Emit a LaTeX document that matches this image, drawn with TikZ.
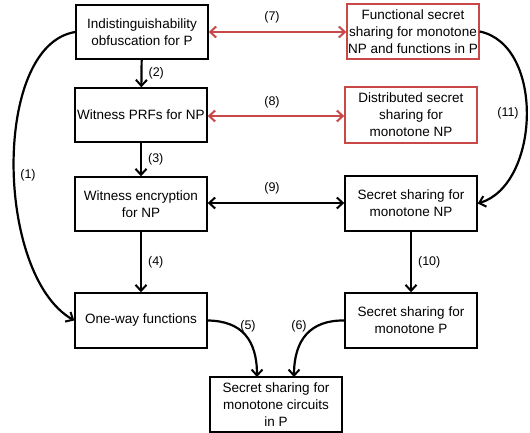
\documentclass[tikz,border=0pt]{standalone}
\usepackage{fontspec}
\setmainfont{Liberation Sans}
\usetikzlibrary{arrows.meta}
\definecolor{boxred}{RGB}{200,72,72}
\tikzset{
  box/.style={draw=black,line width=1.4pt,minimum width=132pt,minimum height=54pt,
    align=center,inner sep=0pt,font=\fontsize{13.5}{17}\selectfont},
  redbox/.style={box,draw=boxred},
  tip/.style={},
  conn/.style={line width=2.2pt,-{Straight Barb[length=6pt,width=11pt,line width=2pt]}},
  biconn/.style={line width=2.2pt,{Straight Barb[length=6pt,width=11pt,line width=2pt]}-{Straight Barb[length=6pt,width=11pt,line width=2pt]}},
  lbl/.style={font=\fontsize{12.5}{14}\selectfont,inner sep=0pt}
}
\begin{document}
\begin{tikzpicture}[x=1pt,y=-1pt]
\useasboundingbox (0,0) rectangle (530,433);
\node[box] (A) at (142,32) {Indistinguishability\\obfuscation for P};
\node[box] (B) at (141,115) {Witness PRFs for NP};
\node[box] (C) at (141,204) {Witness encryption\\for NP};
\node[box,minimum height=55pt] (D) at (141,320.5) {One-way functions};
\node[box,minimum height=55pt] (E) at (276,404.5) {Secret sharing for\\monotone circuits\\in P};
\node[redbox,minimum height=55pt] (F) at (413,31.5) {Functional secret\\sharing for monotone\\NP and functions in P};
\node[redbox,minimum height=56pt] (G) at (411,115) {Distributed secret\\sharing for\\monotone NP};
\node[box,minimum height=55pt] (H) at (411,203.5) {Secret sharing for\\monotone NP};
\node[box,minimum height=55pt] (I) at (411,320.5) {Secret sharing for\\monotone P};
\coordinate (E5) at (257,377);
\coordinate (E6) at (294,377);
% vertical arrows
\draw[conn] (A) -- (B) node[lbl,midway,right=6pt] {(2)};
\draw[conn] (B) -- (C) node[lbl,midway,right=6pt] {(3)};
\draw[conn] (C) -- (D) node[lbl,midway,right=6pt] {(4)};
\draw[conn] (H) -- (I) node[lbl,midway,right=6pt] {(10)};
% horizontal double arrows
\draw[biconn,boxred] (A.east |- 0,32) -- (F.west |- 0,32);
\draw[biconn,boxred] (B.east |- 0,116) -- (G.west |- 0,116);
\draw[biconn] (C.east |- 0,203) -- (H.west |- 0,203);
\node[lbl] (l7) at (272,17) {(7)};
\node[lbl] (l8) at (272,102) {(8)};
\node[lbl] (l9) at (272,188) {(9)};
% curves
\draw[conn] (A.west) .. controls (-8,45) and (-5,275) .. (D.west);
\node[lbl] (l1) at (28,175) {(1)};
\draw[conn] (F.east) .. controls (545,45) and (540,185) .. (H.east);
\node[lbl] (l11) at (508,113) {(11)};
\draw[conn] (D.east) .. controls (242,321) and (257,340) .. (E5);
\node[lbl] (l5) at (248,326) {(5)};
\draw[conn] (I.west) .. controls (310,320) and (294,340) .. (E6);
\node[lbl] (l6) at (299,326) {(6)};
\end{tikzpicture}
\end{document}
